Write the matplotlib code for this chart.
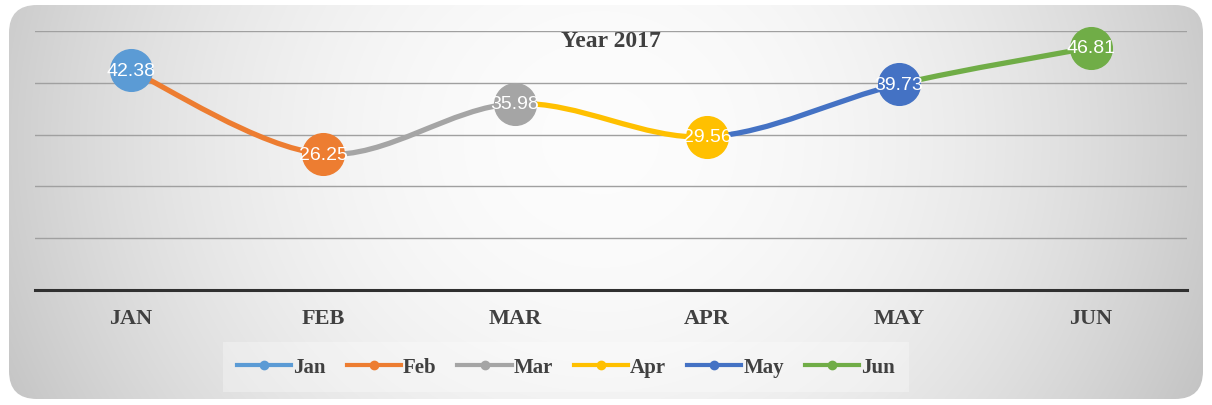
import numpy as np
import matplotlib
matplotlib.use("Agg")
import matplotlib.pyplot as plt
from matplotlib.path import Path
from matplotlib.patches import PathPatch, FancyBboxPatch
from matplotlib.lines import Line2D

# data
months = ["JAN", "FEB", "MAR", "APR", "MAY", "JUN"]
series_names = ["Jan", "Feb", "Mar", "Apr", "May", "Jun"]
values = [42.38, 26.25, 35.98, 29.56, 39.73, 46.81]
colors = ["#5B9BD5", "#ED7D31", "#A5A5A5", "#FFC000", "#4472C4", "#70AD47"]

W, H = 1212, 406
fig = plt.figure(figsize=(W / 100, H / 100), dpi=100)
fig.patch.set_facecolor("white")

# rounded background with radial gradient
bg = fig.add_axes([0, 0, 1, 1])
bg.set_xlim(0, W)
bg.set_ylim(H, 0)
bg.axis("off")
yy, xx = np.mgrid[0:H, 0:W]
d = np.sqrt(((xx - 600) / 640.0) ** 2 + ((yy - 140) / 600.0) ** 2)
shade = np.clip(0.99 - 0.21 * d ** 2, 0.74, 1.0)
img = bg.imshow(np.dstack([shade] * 3), extent=(0, W, H, 0), zorder=0)
box = FancyBboxPatch((9, 6), W - 18, H - 12, boxstyle="round,pad=0,rounding_size=28",
                     transform=bg.transData, facecolor="none", edgecolor="none")
bg.add_patch(box)
img.set_clip_path(box)

ax = fig.add_axes([35 / W, 115 / H, 1152 / W, 259 / H])
ax.patch.set_alpha(0)
x = np.arange(len(months))
ax.set_xlim(-0.5, len(months) - 0.5)
ax.set_ylim(0, 50)

for s in ["top", "left", "right"]:
    ax.spines[s].set_visible(False)
ax.spines["bottom"].set_linewidth(2.2)
ax.spines["bottom"].set_color("#303030")
ax.set_yticks([10, 20, 30, 40, 50])
ax.yaxis.grid(True, color="#a0a0a0", linewidth=1.0)
ax.set_axisbelow(True)
ax.tick_params(axis="y", left=False, labelleft=False)
ax.tick_params(axis="x", length=0, pad=13)
ax.set_xticks(x)
ax.set_xticklabels(months, fontfamily="Liberation Serif", fontweight="bold",
                   fontsize=16, color="#404040")

# smoothed segments, each segment belongs to the series at its end point
pts = np.column_stack([x, values]).astype(float)
n = len(pts)
for i in range(1, n):
    p0 = pts[max(i - 2, 0)]
    p1 = pts[i - 1]
    p2 = pts[i]
    p3 = pts[min(i + 1, n - 1)]
    c1 = p1 + (p2 - p0) / 6.0
    c2 = p2 - (p3 - p1) / 6.0
    path = Path([p1, c1, c2, p2], [Path.MOVETO, Path.CURVE4, Path.CURVE4, Path.CURVE4])
    ax.add_patch(PathPatch(path, facecolor="none", edgecolor=colors[i], linewidth=3.8,
                           capstyle="round", zorder=3, clip_on=False))

for i in range(n):
    ax.plot(x[i], values[i], "o", markersize=30, color=colors[i], zorder=4, clip_on=False)
    ax.text(x[i], values[i], f"{values[i]:.2f}", ha="center", va="center", color="white",
            fontsize=14, fontfamily="Liberation Sans", zorder=5)

ax.text(0.5, 0.962, "Year 2017", transform=ax.transAxes,
        ha="center", va="center", fontsize=17, fontweight="bold",
        fontfamily="Liberation Serif", color="#404040")

handles = [Line2D([0], [0], color=c, linewidth=3.0, marker="o", markersize=6)
           for c in colors]
leg = fig.legend(handles, series_names, loc="center", bbox_to_anchor=(566 / W, 1 - 368 / H),
                 ncol=6, frameon=True, handlelength=2.6, handletextpad=0.1, columnspacing=1.0,
                 prop={"family": "Liberation Serif", "weight": "bold", "size": 15})
leg.get_frame().set_facecolor("white")
leg.get_frame().set_alpha(0.3)
leg.get_frame().set_edgecolor("none")
leg.get_frame().set_boxstyle("square", pad=0.3)
for t in leg.get_texts():
    t.set_color("#404040")

fig.savefig("out.png", dpi=100)
